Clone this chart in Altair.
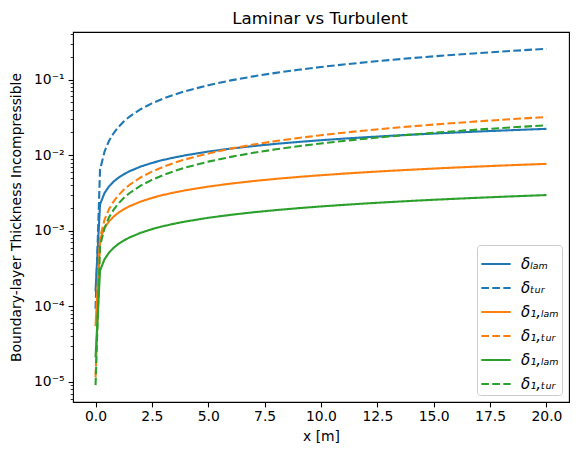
import json
import altair as alt
import pandas as pd

# x positions along the plate [m]
x_vals = [0.001, 0.2, 0.4, 0.6, 0.8, 1.0, 1.25, 1.5, 2.0, 2.5, 3.0, 3.5, 4.0, 5.0, 6.0,
          7.0, 8.0, 9.0, 10.0, 11.0, 12.0, 13.0, 14.0, 15.0, 16.0, 17.0, 18.0, 19.0, 20.0]

delta_lam = [1.58e-4, 2.236e-3, 3.162e-3, 3.873e-3, 4.472e-3, 5.0e-3, 5.59e-3, 6.124e-3,
             7.071e-3, 7.906e-3, 8.66e-3, 9.354e-3, 0.01, 0.01118, 0.01225, 0.01323, 0.01414,
             0.015, 0.01581, 0.01658, 0.01732, 0.01803, 0.01871, 0.01936, 0.02, 0.02062,
             0.02121, 0.02179, 0.02236]
delta_tur = [9.29e-5, 6.442e-3, 0.011217, 0.015514, 0.019529, 0.023346, 0.027909, 0.032291,
             0.040648, 0.048592, 0.056222, 0.063601, 0.070772, 0.084604, 0.097889, 0.110742,
             0.123221, 0.135397, 0.147304, 0.158975, 0.170433, 0.181704, 0.192803, 0.203743,
             0.214541, 0.2252, 0.235736, 0.246158, 0.256468]
delta1_lam = [5.44e-5, 7.69e-4, 1.088e-3, 1.332e-3, 1.538e-3, 1.72e-3, 1.923e-3, 2.107e-3,
              2.432e-3, 2.72e-3, 2.979e-3, 3.218e-3, 3.44e-3, 3.846e-3, 4.213e-3, 4.551e-3,
              4.865e-3, 5.16e-3, 5.439e-3, 5.705e-3, 5.958e-3, 6.202e-3, 6.436e-3, 6.662e-3,
              6.88e-3, 7.092e-3, 7.297e-3, 7.497e-3, 7.692e-3]
delta1_tur = [1.162e-5, 8.053e-4, 1.4021e-3, 1.9393e-3, 2.4412e-3, 2.9183e-3, 3.4887e-3,
              4.0365e-3, 5.0811e-3, 6.0741e-3, 7.0279e-3, 7.9504e-3, 8.8466e-3, 0.010576,
              0.012236, 0.013843, 0.015403, 0.016925, 0.018413, 0.019872, 0.021305, 0.022713,
              0.024101, 0.025468, 0.026818, 0.02815, 0.029467, 0.03077, 0.032059]
theta_lam = [2.1e-5, 2.97e-4, 4.2e-4, 5.143e-4, 5.939e-4, 6.64e-4, 7.424e-4, 8.132e-4,
             9.39e-4, 1.05e-3, 1.15e-3, 1.242e-3, 1.328e-3, 1.485e-3, 1.626e-3, 1.757e-3,
             1.878e-3, 1.992e-3, 2.1e-3, 2.202e-3, 2.3e-3, 2.394e-3, 2.484e-3, 2.572e-3,
             2.656e-3, 2.738e-3, 2.817e-3, 2.894e-3, 2.97e-3]
theta_tur = [9.04e-6, 6.263e-4, 1.0905e-3, 1.5083e-3, 1.8986e-3, 2.2697e-3, 2.7133e-3,
             3.1394e-3, 3.9518e-3, 4.7241e-3, 5.4659e-3, 6.1834e-3, 6.8805e-3, 8.2252e-3,
             9.5168e-3, 0.010766, 0.01198, 0.013163, 0.014321, 0.015456, 0.016569, 0.017665,
             0.018744, 0.019808, 0.020858, 0.021894, 0.022918, 0.023932, 0.024934]

series_keys = ["a", "b", "c", "d", "e", "f"]
series_labels = ["δₗₐₘ", "δₜᵤᵣ", "δ₁,ₗₐₘ", "δ₁,ₜᵤᵣ", "δ₁,ₗₐₘ", "δ₁,ₜᵤᵣ"]
series_colors = ["#1f77b4", "#1f77b4", "#ff7f0e", "#ff7f0e", "#2ca02c", "#2ca02c"]
series_dash = [[1, 0], [7.7, 3.3], [1, 0], [7.7, 3.3], [1, 0], [7.7, 3.3]]
series_values = [delta_lam, delta_tur, delta1_lam, delta1_tur, theta_lam, theta_tur]

chart_title = "Laminar vs Turbulent"
x_ticks = [0.0, 2.5, 5.0, 7.5, 10.0, 12.5, 15.0, 17.5, 20.0]
y_major = [1e-5, 1e-4, 1e-3, 1e-2, 1e-1]
y_major_labels = ["10⁻⁵", "10⁻⁴", "10⁻³", "10⁻²", "10⁻¹"]
y_minor = [6e-6, 7e-6, 8e-6, 9e-6,
           2e-5, 3e-5, 4e-5, 5e-5, 6e-5, 7e-5, 8e-5, 9e-5,
           2e-4, 3e-4, 4e-4, 5e-4, 6e-4, 7e-4, 8e-4, 9e-4,
           2e-3, 3e-3, 4e-3, 5e-3, 6e-3, 7e-3, 8e-3, 9e-3,
           2e-2, 3e-2, 4e-2, 5e-2, 6e-2, 7e-2, 8e-2, 9e-2,
           2e-1, 3e-1, 4e-1]

rows = []
for key, vals in zip(series_keys, series_values):
    for xv, yv in zip(x_vals, vals):
        rows.append({"x": xv, "y": yv, "s": key})
df = pd.DataFrame(rows)

font = "DejaVu Sans"
W, H = 496, 370
maj = json.dumps(y_major)
lab = json.dumps(y_major_labels, ensure_ascii=False)
y_label_expr = f"indexof({maj}, datum.value) >= 0 ? {lab}[indexof({maj}, datum.value)] : ''"
is_major = f"indexof({maj}, datum.value) >= 0"

legend_expr = " : ".join(
    f"datum.value == '{k}' ? '{l}'" for k, l in zip(series_keys, series_labels)
) + " : ''"

lines = alt.Chart(df).mark_line(strokeWidth=2.1).encode(
    x=alt.X("x:Q",
            scale=alt.Scale(domain=[-0.999, 21.0], nice=False, zero=False),
            axis=alt.Axis(title="x [m]", values=x_ticks, format=".1f",
                          tickSize=4.9, tickWidth=1.1, labelPadding=3,
                          titlePadding=6, labelFlush=False)),
    y=alt.Y("y:Q",
            scale=alt.Scale(type="log", domain=[5.41e-6, 0.428], nice=False),
            axis=alt.Axis(title="Boundary-layer Thickness Incompressible",
                          values=y_major + y_minor, labelExpr=y_label_expr,
                          labelOverlap=False,
                          tickSize={"condition": {"test": is_major, "value": 4.9}, "value": 2.8},
                          tickWidth={"condition": {"test": is_major, "value": 1.1}, "value": 0.8},
                          labelPadding=4, titlePadding=10)),
    color=alt.Color("s:N",
                    scale=alt.Scale(domain=series_keys, range=series_colors),
                    legend=alt.Legend(title=None, labelExpr=legend_expr)),
    strokeDash=alt.StrokeDash("s:N",
                              scale=alt.Scale(domain=series_keys, range=series_dash),
                              legend=alt.Legend(title=None, labelExpr=legend_expr)),
    order=alt.Order("x:Q"),
)

title_text = alt.Chart(pd.DataFrame({"t": [chart_title]})).mark_text(
    font=font, fontSize=16.7, color="black", baseline="alphabetic", align="center"
).encode(
    text="t:N",
    x=alt.value(W / 2 - 1),
    y=alt.value(-8),
)

chart = alt.layer(lines, title_text).properties(
    width=W,
    height=H,
    autosize="none",
    padding={"left": 65, "top": 24, "right": 1, "bottom": 42},
).configure_view(
    stroke="black", strokeWidth=1.1
).configure_axis(
    grid=False, domain=False, labelFont=font, titleFont=font,
    labelFontSize=13.9, titleFontSize=13.9, titleFontWeight="normal",
    labelColor="black", titleColor="black", tickColor="black"
).configure_legend(
    orient="bottom-right", offset=7, padding=3,
    strokeColor="#cccccc", fillColor="white", cornerRadius=3,
    symbolType="stroke", symbolSize=860, symbolStrokeWidth=2.1,
    rowPadding=-6.5, labelFont=font, labelFontSize=15, labelFontStyle="italic",
    labelColor="black", labelOffset=9
)

chart.save("out.html", embed_options={"renderer": "svg", "actions": False})
